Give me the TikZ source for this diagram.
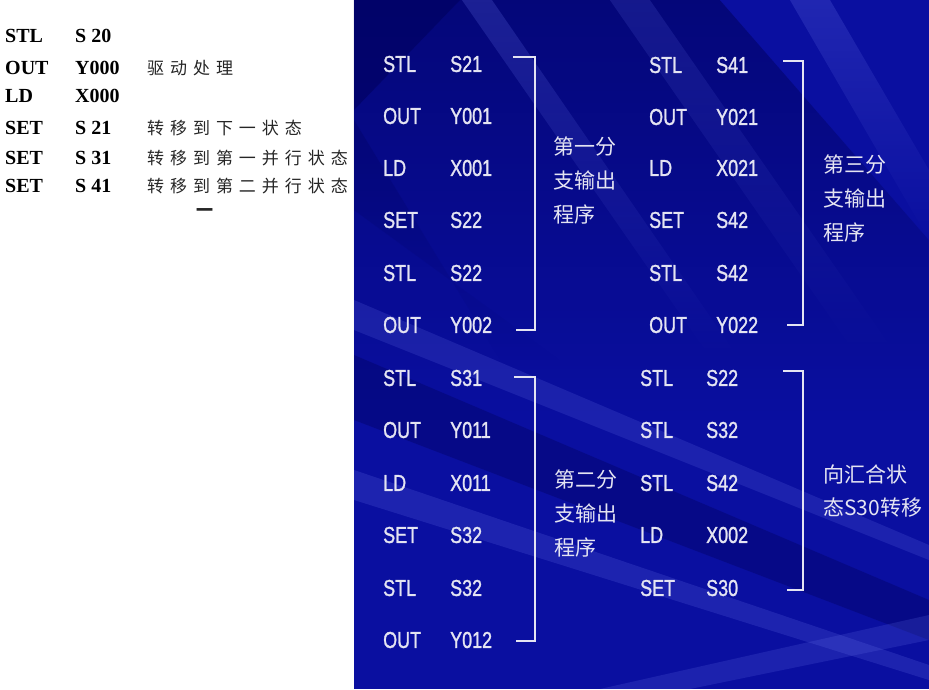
\documentclass[tikz,border=0pt]{standalone}
\usepackage{fontspec}
\usepackage{tikz}
\usetikzlibrary{fadings}

\newfontfamily\leftfont{Liberation Serif}
\newfontfamily\notefont{Noto Sans CJK SC}[LetterSpace=35]
\newfontfamily\plcfont{Liberation Sans}[FakeStretch=0.78, FakeBold=1.2]
\newfontfamily\cjkfont{Noto Sans CJK SC}

\definecolor{bgblue}{RGB}{10,15,160}
\definecolor{darkblue}{RGB}{0,0,90}
\definecolor{lightblue}{RGB}{100,110,230}
\definecolor{plcwhite}{RGB}{228,228,242}

\tikzfading[name=fade down, top color=transparent!0, bottom color=transparent!100]

\tikzset{
	leftcmd/.style = {anchor=west, inner sep=0pt, font=\leftfont\bfseries\fontsize{20}{24}\selectfont},
	leftnote/.style = {anchor=west, inner sep=0pt, text=black!85, font=\notefont\fontsize{17}{18}\selectfont},
	plc/.style = {anchor=west, inner sep=0pt, text=plcwhite, font=\plcfont\fontsize{23}{26}\selectfont},
	brlabel/.style = {anchor=north west, inner sep=0pt, align=left, text=plcwhite, font=\cjkfont\fontsize{21}{34}\selectfont},
	bracket/.style = {draw=plcwhite, line width=2.6pt}
}

\begin{document}
\begin{tikzpicture}[x=1pt, y=-1pt]
	\useasboundingbox (0,0) rectangle (929,689);
	
	% blue panel
	\fill[bgblue] (354,0) rectangle (929,689);
	\fill[darkblue, opacity=.55, path fading=fade down] (354,0) -- (720,0) -- (929,240) -- (929,420) -- (354,420) -- cycle;
	\fill[darkblue, opacity=.5] (354,0) -- (460,0) -- (354,110) -- cycle;
	\fill[lightblue, opacity=.25, path fading=fade down] (462,0) -- (492,0) -- (740,360) -- (712,360) -- cycle;
	\fill[lightblue, opacity=.18, path fading=fade down] (610,0) -- (650,0) -- (900,360) -- (860,360) -- cycle;
	\fill[lightblue, opacity=.25, path fading=fade down] (790,0) -- (830,0) -- (929,170) -- (929,240) -- cycle;
	\fill[darkblue, opacity=.3, path fading=fade down] (354,120) -- (354,210) -- (560,360) -- (500,360) -- cycle;
	\fill[lightblue, opacity=.2] (354,300) -- (354,330) -- (929,560) -- (929,545) -- cycle;
	\fill[darkblue, opacity=.35] (354,355) -- (354,420) -- (929,640) -- (929,600) -- cycle;
	\fill[lightblue, opacity=.22] (354,470) -- (354,500) -- (929,680) -- (929,665) -- cycle;
	\fill[lightblue, opacity=.2] (600,689) -- (929,615) -- (929,640) -- (690,689) -- cycle;
	
	% left program
	\node[leftcmd] (s20a) at (5,36) {STL};
	\node[leftcmd] (s20b) at (75,36) {S 20};
	\node[leftcmd] (y000a) at (5,68) {OUT};
	\node[leftcmd] (y000b) at (75,68) {Y000};
	\node[leftnote] (y000c) at (147,68) {驱动处理};
	\node[leftcmd] (x000a) at (5,96) {LD};
	\node[leftcmd] (x000b) at (75,96) {X000};
	\node[leftcmd] (s21a) at (5,128) {SET};
	\node[leftcmd] (s21b) at (75,128) {S 21};
	\node[leftnote] (s21c) at (147,128) {转移到下一状态};
	\node[leftcmd] (s31a) at (5,158) {SET};
	\node[leftcmd] (s31b) at (75,158) {S 31};
	\node[leftnote] (s31c) at (147,158) {转移到第一并行状态};
	\node[leftcmd] (s41a) at (5,186) {SET};
	\node[leftcmd] (s41b) at (75,186) {S 41};
	\node[leftnote] (s41c) at (147,186) {转移到第二并行状态};
	\node[leftnote, font=\notefont\bfseries\fontsize{17}{18}\selectfont] (dash) at (196,213) {一};
	
	% first branch
	\node[plc] (a1) at (383,64) {STL};
	\node[plc] (a1o) at (450,64) {S21};
	\node[plc] (a2) at (383,116) {OUT};
	\node[plc] (a2o) at (450,116) {Y001};
	\node[plc] (a3) at (383,168) {LD};
	\node[plc] (a3o) at (450,168) {X001};
	\node[plc] (a4) at (383,220) {SET};
	\node[plc] (a4o) at (450,220) {S22};
	\node[plc] (a5) at (383,273) {STL};
	\node[plc] (a5o) at (450,273) {S22};
	\node[plc] (a6) at (383,325) {OUT};
	\node[plc] (a6o) at (450,325) {Y002};
	\draw[bracket] (513,57) -- (535,57) -- (535,330) -- (516,330);
	\node[brlabel] (alab) at (553,137) {第一分\\支输出\\程序};
	
	% third branch
	\node[plc] (c1) at (649,65) {STL};
	\node[plc] (c1o) at (716,65) {S41};
	\node[plc] (c2) at (649,117) {OUT};
	\node[plc] (c2o) at (716,117) {Y021};
	\node[plc] (c3) at (649,168) {LD};
	\node[plc] (c3o) at (716,168) {X021};
	\node[plc] (c4) at (649,220) {SET};
	\node[plc] (c4o) at (716,220) {S42};
	\node[plc] (c5) at (649,273) {STL};
	\node[plc] (c5o) at (716,273) {S42};
	\node[plc] (c6) at (649,325) {OUT};
	\node[plc] (c6o) at (716,325) {Y022};
	\draw[bracket] (783,61) -- (803,61) -- (803,325) -- (787,325);
	\node[brlabel] (clab) at (823,155) {第三分\\支输出\\程序};
	
	% second branch
	\node[plc] (b1) at (383,378) {STL};
	\node[plc] (b1o) at (450,378) {S31};
	\node[plc] (b2) at (383,430) {OUT};
	\node[plc] (b2o) at (450,430) {Y011};
	\node[plc] (b3) at (383,483) {LD};
	\node[plc] (b3o) at (450,483) {X011};
	\node[plc] (b4) at (383,535) {SET};
	\node[plc] (b4o) at (450,535) {S32};
	\node[plc] (b5) at (383,588) {STL};
	\node[plc] (b5o) at (450,588) {S32};
	\node[plc] (b6) at (383,640) {OUT};
	\node[plc] (b6o) at (450,640) {Y012};
	\draw[bracket] (514,377) -- (535,377) -- (535,641) -- (516,641);
	\node[brlabel] (blab) at (554,470) {第二分\\支输出\\程序};
	
	% merge
	\node[plc] (d1) at (640,378) {STL};
	\node[plc] (d1o) at (706,378) {S22};
	\node[plc] (d2) at (640,430) {STL};
	\node[plc] (d2o) at (706,430) {S32};
	\node[plc] (d3) at (640,483) {STL};
	\node[plc] (d3o) at (706,483) {S42};
	\node[plc] (d4) at (640,535) {LD};
	\node[plc] (d4o) at (706,535) {X002};
	\node[plc] (d5) at (640,588) {SET};
	\node[plc] (d5o) at (706,588) {S30};
	\draw[bracket] (783,371) -- (803,371) -- (803,590) -- (787,590);
	\node[brlabel, font=\cjkfont\fontsize{21}{33}\selectfont] (dlab) at (823,465) {向汇合状\\态S30转移};
	
\end{tikzpicture}
\end{document}
